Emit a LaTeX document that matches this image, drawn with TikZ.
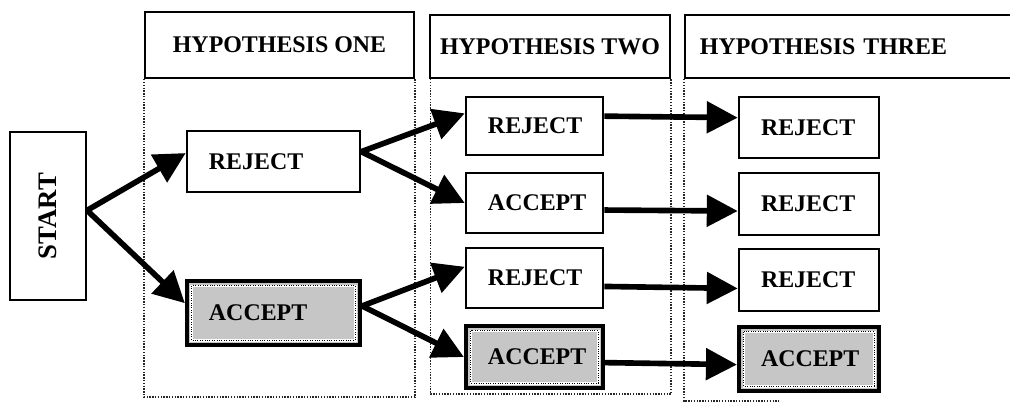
\documentclass[tikz,border=0pt]{standalone}
\usepackage{fontspec}
\setmainfont{Liberation Serif}
\usetikzlibrary{arrows.meta,positioning,calc}

\begin{document}
\begin{tikzpicture}[x=0.025cm,y=-0.025cm,
    head/.style={draw,line width=1.5pt,inner sep=0pt,font=\fontsize{17}{20}\selectfont\bfseries},
    box/.style={draw,line width=1.8pt,inner xsep=0.55cm,inner ysep=0pt,align=left,
        font=\fontsize{17}{20}\selectfont\bfseries},
    okbox/.style={box,line width=3pt,fill=gray!45,
        path picture={
            \draw[white,line width=2pt] ([xshift=3.5pt,yshift=-3.5pt]path picture bounding box.north west)
                rectangle ([xshift=-3.5pt,yshift=3.5pt]path picture bounding box.south east);
            \draw[densely dotted,line width=0.7pt] ([xshift=3.5pt,yshift=-3.5pt]path picture bounding box.north west)
                rectangle ([xshift=-3.5pt,yshift=3.5pt]path picture bounding box.south east);}},
    lane/.style={densely dotted,line width=1pt,black!85},
    arr/.style={-{Triangle[length=22pt,width=22pt]},line width=4pt}]
    \useasboundingbox (0,0) rectangle (1010,402);

    % Column headers
    \node[head,minimum width=6.725cm,minimum height=1.65cm] (h1) at (279.5,45) {HYPOTHESIS ONE};
    \node[head,minimum width=6cm,minimum height=1.575cm] (h2) at (550,46.5) {HYPOTHESIS TWO};
    \node[head,minimum width=8.25cm,minimum height=1.575cm,inner xsep=0.375cm,
        text width=7.5cm,align=left] (h3) at (850,46.5) {HYPOTHESIS THREE};

    % Dotted lanes below the headers
    \draw[lane] (h1.south west) -- ++(0,318) -| (h1.south east);
    \draw[lane] ([xshift=1pt]h2.south west) -- ++(0,315) -| (h2.south east);
    \draw[lane] (h3.south west) -- ++(0,322) -- ++(95,0);

    % Start
    \node[draw,line width=1.5pt,minimum width=1.9cm,minimum height=4.2cm,inner sep=0pt,
        font=\fontsize{19}{22}\selectfont\bfseries] (start) at (48,216) {\rotatebox{90}{START}};

    % Hypothesis one
    \node[box,text width=3.225cm,minimum height=1.525cm] (rej1) at (273.5,161.5) {REJECT};
    \node[okbox,text width=3.225cm,minimum height=1.6cm] (acc1) at (273.5,313) {ACCEPT};

    % Hypothesis two
    \node[box,text width=2.325cm,minimum height=1.45cm] (rej2) at (534.5,126) {REJECT};
    \node[box,text width=2.325cm,minimum height=1.5cm] (acc2) at (534.5,203) {ACCEPT};
    \node[box,text width=2.325cm,minimum height=1.5cm] (rej2b) at (534.5,278) {REJECT};
    \node[okbox,text width=2.325cm,minimum height=1.55cm] (acc2b) at (534.5,357) {ACCEPT};

    % Hypothesis three
    \node[box,text width=2.4cm,minimum height=1.525cm] (rej3) at (809,127.5) {REJECT};
    \node[box,text width=2.4cm,minimum height=1.55cm] (rej3b) at (809,204) {REJECT};
    \node[box,text width=2.4cm,minimum height=1.55cm] (rej3c) at (809,280) {REJECT};
    \node[okbox,text width=2.4cm,minimum height=1.6cm] (acc3) at (809,359) {ACCEPT};

    % Branches
    \draw[arr] ([yshift=4pt]start.east) -- ([yshift=6pt]rej1.west);
    \draw[arr] ([yshift=4pt]start.east) -- ([yshift=7pt]acc1.west);
    \draw[arr] ([yshift=7pt]rej1.east) -- ([yshift=9pt]rej2.west);
    \draw[arr] ([yshift=7pt]rej1.east) -- (acc2.west);
    \draw[arr] ([yshift=5pt]acc1.east) -- ([yshift=8pt]rej2b.west);
    \draw[arr] ([yshift=5pt]acc1.east) -- (acc2b.west);

    % Straight on to hypothesis three
    \draw[arr] ([yshift=7pt]rej2.east) -- ([yshift=7pt]rej3.west);
    \draw[arr] ([yshift=-5pt]acc2.east) -- ([yshift=-5pt]rej3b.west);
    \draw[arr] ([yshift=-6pt]rej2b.east) -- ([yshift=-6pt]rej3c.west);
    \draw[arr] ([yshift=-4pt]acc2b.east) -- ([yshift=-4pt]acc3.west);
\end{tikzpicture}
\end{document}
